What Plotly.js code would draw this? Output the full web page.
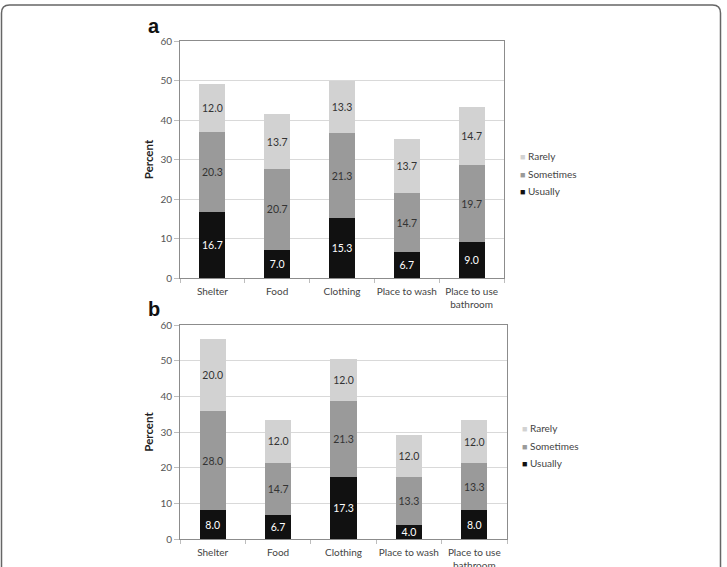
<!DOCTYPE html>
<html><head><meta charset="utf-8">
<script src="https://cdn.plot.ly/plotly-3.0.1.min.js"></script>
<style>html,body{margin:0;padding:0;background:#fff}</style>
</head><body><div id="chart" style="width:727px;height:567px"></div>
<script>
const categories = ['Shelter','Food','Clothing','Place to wash','Place to use<br>bathroom'];
const seriesNames = ['Usually','Sometimes','Rarely'];
const seriesColors = ['#111111','#9a9a9a','#d2d2d2'];
const textColors = ['#ffffff','#333333','#333333'];
const usuallyA = [16.7,7.0,15.3,6.7,9.0];
const sometimesA = [20.3,20.7,21.3,14.7,19.7];
const rarelyA = [12.0,13.7,13.3,13.7,14.7];
const usuallyB = [8.0,6.7,17.3,4.0,8.0];
const sometimesB = [28.0,14.7,21.3,13.3,13.3];
const rarelyB = [20.0,12.0,12.0,12.0,12.0];
const yTicks = [0,10,20,30,40,50,60];
const panelLabels = ['a','b'];
const yTitle = 'Percent';

const W = 727, H = 567;
const px = v => v / W;
const py = v => 1 - v / H;
const FONT = 'Lato, "Open Sans", sans-serif';

const panels = [
  {series:[usuallyA, sometimesA, rarelyA], xa:'x', ya:'y'},
  {series:[usuallyB, sometimesB, rarelyB], xa:'x2', ya:'y2'}
];

const traces = [];
panels.forEach(p => {
  p.series.forEach((vals, i) => {
    traces.push({
      type:'bar', x:categories, y:vals, name:seriesNames[i],
      xaxis:p.xa, yaxis:p.ya, showlegend:false,
      marker:{color:seriesColors[i], line:{width:0}},
      texttemplate:'%{y:.1f}', textposition:'inside', insidetextanchor:'middle',
      textangle:0, constraintext:'none',
      textfont:{family:FONT, size:10.5, color:textColors[i]},
      hoverinfo:'skip'
    });
  });
});

function yaxis(domain, anchor){
  return {domain, anchor, range:[0,60], tickvals:yTicks, showgrid:true, gridcolor:'#d9d9d9', gridwidth:1,
    zeroline:false, showline:true, mirror:true, linecolor:'#8c8c8c', linewidth:1,
    ticks:'outside', ticklen:5, tickcolor:'#bdbdbd',
    tickfont:{family:FONT, size:10, color:'#555'},
    title:{text:'<b>'+yTitle+'</b>', font:{family:FONT, size:11.5, color:'#222'}, standoff:4}, fixedrange:true};
}
function xaxis(domain, anchor){
  return {domain, anchor, type:'category', showline:true, mirror:true, linecolor:'#8c8c8c', linewidth:1,
    ticks:'outside', tickson:'boundaries', ticklen:4, tickcolor:'#bdbdbd', tickangle:0, ticklabelstandoff:4,
    tickfont:{family:FONT, size:10, color:'#444'}, showgrid:false, fixedrange:true};
}

const annotations = [];
// panel letters
[[146, 26],[146, 309]].forEach((pos, k) => {
  annotations.push({xref:'paper', yref:'paper', x:px(pos[0]), y:py(pos[1]), xanchor:'left', yanchor:'middle',
    text:'<b>'+panelLabels[k]+'</b>', showarrow:false, font:{family:'"Liberation Sans", Arial, sans-serif', size:20, color:'#111'}});
});
// legends (Rarely, Sometimes, Usually top to bottom)
const legendPos = [{x:518, y:[191,174,156]}, {x:520, y:[463,446,428]}];
legendPos.forEach(lp => {
  seriesNames.forEach((nm, i) => {
    annotations.push({xref:'paper', yref:'paper', x:px(lp.x), y:py(lp.y[i]), xanchor:'left', yanchor:'middle',
      text:'<span style="color:'+seriesColors[i]+';font-size:9px">■</span> '+nm, showarrow:false,
      font:{family:FONT, size:10, color:'#444'}});
  });
});

const rx = 8/W, ry = 8/H;
const x0 = px(1.5), x1 = px(720.5), yt = py(5), yb = -0.05;
const framePath = `M${x0},${yb} L${x0},${yt-ry} Q${x0},${yt} ${x0+rx},${yt} L${x1-rx},${yt} Q${x1},${yt} ${x1},${yt-ry} L${x1},${yb}`;

const layout = {
  width:W, height:H, margin:{l:0,r:0,t:0,b:0}, paper_bgcolor:'#fff', plot_bgcolor:'#fff',
  barmode:'stack', bargap:0.6, showlegend:false,
  xaxis: xaxis([px(180), px(504)], 'y'),
  yaxis: yaxis([py(278), py(41)], 'x'),
  xaxis2: xaxis([px(180), px(507)], 'y2'),
  yaxis2: yaxis([py(539), py(325)], 'x2'),
  annotations,
  shapes:[{type:'path', xref:'paper', yref:'paper', path:framePath, line:{color:'#666', width:1.5}}]
};

Plotly.newPlot('chart', traces, layout, {displayModeBar:false, staticPlot:true});
</script></body></html>
